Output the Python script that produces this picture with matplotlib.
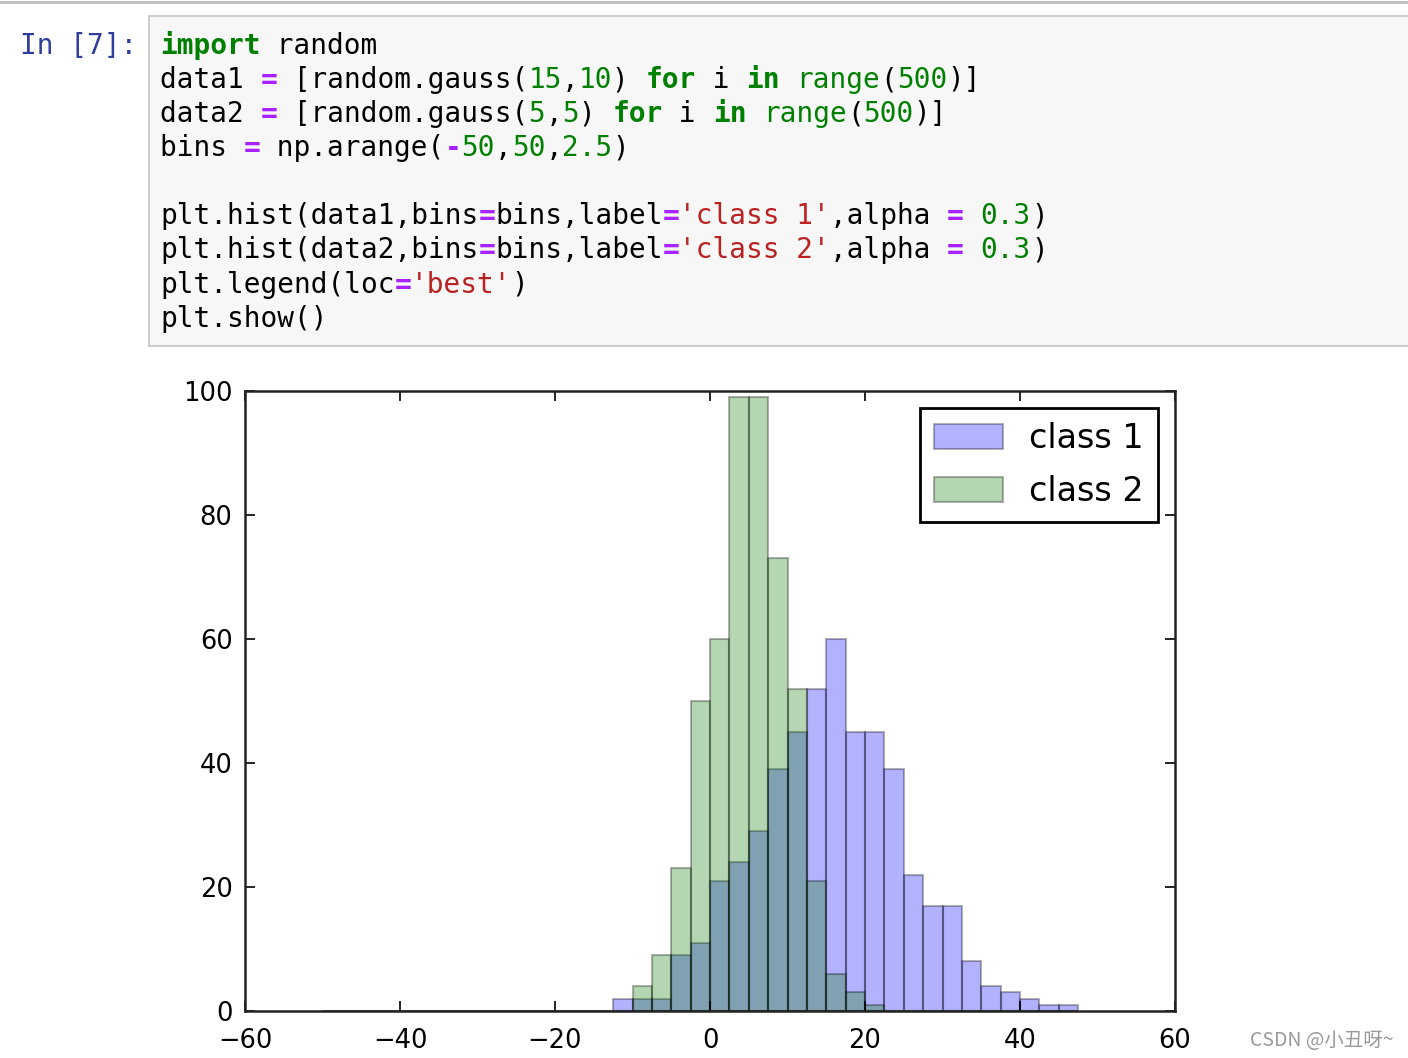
import numpy as np
import matplotlib
matplotlib.use("Agg")
import matplotlib.pyplot as plt
from matplotlib.patches import Rectangle
from matplotlib.lines import Line2D

# histogram bins (np.arange(-50, 50, 2.5)) and counts
bins = np.arange(-50, 50, 2.5)
class1_start = -12.5
class1_counts = [2, 2, 2, 9, 11, 21, 24, 29, 39, 45, 52, 60, 45, 45, 39,
                 22, 17, 17, 8, 4, 3, 2, 1, 1]
class2_start = -10.0
class2_counts = [4, 9, 23, 50, 60, 99, 99, 73, 52, 21, 6, 3, 1]
labels = ["class 1", "class 2"]

xticks = [-60, -40, -20, 0, 20, 40, 60]
yticks = [0, 20, 40, 60, 80, 100]

# notebook cell text, split in tokens with a style name
code_lines = [
    [("import", "kw"), (" random", "t")],
    [("data1 ", "t"), ("=", "op"), (" [random.gauss(", "t"), ("15", "num"), (",", "t"),
     ("10", "num"), (") ", "t"), ("for", "kw"), (" i ", "t"), ("in", "kw"), (" ", "t"),
     ("range", "bi"), ("(", "t"), ("500", "num"), (")]", "t")],
    [("data2 ", "t"), ("=", "op"), (" [random.gauss(", "t"), ("5", "num"), (",", "t"),
     ("5", "num"), (") ", "t"), ("for", "kw"), (" i ", "t"), ("in", "kw"), (" ", "t"),
     ("range", "bi"), ("(", "t"), ("500", "num"), (")]", "t")],
    [("bins ", "t"), ("=", "op"), (" np.arange(", "t"), ("-", "op"), ("50", "num"), (",", "t"),
     ("50", "num"), (",", "t"), ("2.5", "num"), (")", "t")],
    [],
    [("plt.hist(data1,bins", "t"), ("=", "op"), ("bins,label", "t"), ("=", "op"),
     ("'class 1'", "str"), (",alpha ", "t"), ("=", "op"), (" ", "t"), ("0.3", "num"), (")", "t")],
    [("plt.hist(data2,bins", "t"), ("=", "op"), ("bins,label", "t"), ("=", "op"),
     ("'class 2'", "str"), (",alpha ", "t"), ("=", "op"), (" ", "t"), ("0.3", "num"), (")", "t")],
    [("plt.legend(loc", "t"), ("=", "op"), ("'best'", "str"), (")", "t")],
    [("plt.show()", "t")],
]
styles = {
    "t": ("#000000", "normal"),
    "kw": ("#008000", "bold"),
    "bi": ("#008000", "normal"),
    "num": ("#008000", "normal"),
    "op": ("#AA22FF", "bold"),
    "str": ("#BA2121", "normal"),
}

W, H = 1408, 1058
fig = plt.figure(figsize=(W / 100, H / 100), dpi=100)
fig.patch.set_facecolor("white")


def fx(x):
    return x / W


def fy(y):
    return 1 - y / H


# notebook chrome
fig.add_artist(Line2D([0, 1], [fy(2), fy(2)], color="#bdbdbd", lw=2))
fig.add_artist(Rectangle((fx(149), fy(346)), fx(1420) - fx(149), fy(16) - fy(346),
                         facecolor="#f7f7f7", edgecolor="#cfcfcf", lw=1.5))
fig.text(fx(20), fy(46), "In [7]:", color="#303F9F", fontsize=20,
         family="DejaVu Sans Mono", va="center", ha="left")

line_y = [46, 80, 114, 148, 182, 216, 250, 285, 319]
cw = 16.75
for toks, y in zip(code_lines, line_y):
    col = 0
    for txt, st in toks:
        c, w = styles[st]
        fig.text(fx(160 + col * cw), fy(y), txt, color=c, fontweight=w, fontsize=20,
                 family="DejaVu Sans Mono", va="center", ha="left")
        col += len(txt)

# histogram
ax = fig.add_axes([fx(245), fy(1011), fx(1175) - fx(245), fy(391) - fy(1011)])
centers1 = class1_start + 1.25 + 2.5 * np.arange(len(class1_counts))
centers2 = class2_start + 1.25 + 2.5 * np.arange(len(class2_counts))
ax.hist(centers1, bins=bins, weights=class1_counts, label=labels[0], alpha=0.3,
        color="#0000ff", edgecolor="black", linewidth=1.5)
ax.hist(centers2, bins=bins, weights=class2_counts, label=labels[1], alpha=0.3,
        color="#0a7a00", edgecolor="black", linewidth=1.5)

ax.set_xlim(-60, 60)
ax.set_ylim(0, 100)
ax.set_xticks(xticks)
ax.set_yticks(yticks)
ax.tick_params(direction="in", length=7, width=1.2, labelsize=18.5, pad=9,
               top=True, right=True, colors="black")
ax.tick_params(axis="x", pad=12)
for sp in ax.spines.values():
    sp.set_linewidth(1.8)
    sp.set_color("#222222")

leg = ax.legend(loc="upper right", fontsize=24, fancybox=False, handlelength=2.07,
                handleheight=0.75, borderaxespad=0.5, labelspacing=0.6,
                handletextpad=0.78, borderpad=0.43, framealpha=1)
leg.get_frame().set_edgecolor("black")
leg.get_frame().set_linewidth(2)

fig.text(fx(1250), fy(1040), "CSDN @小丑呀~", color="#9a9a9a", fontsize=14,
         family=["Noto Sans CJK SC", "DejaVu Sans"], va="center", ha="left")

fig.savefig("out.png", dpi=100)
